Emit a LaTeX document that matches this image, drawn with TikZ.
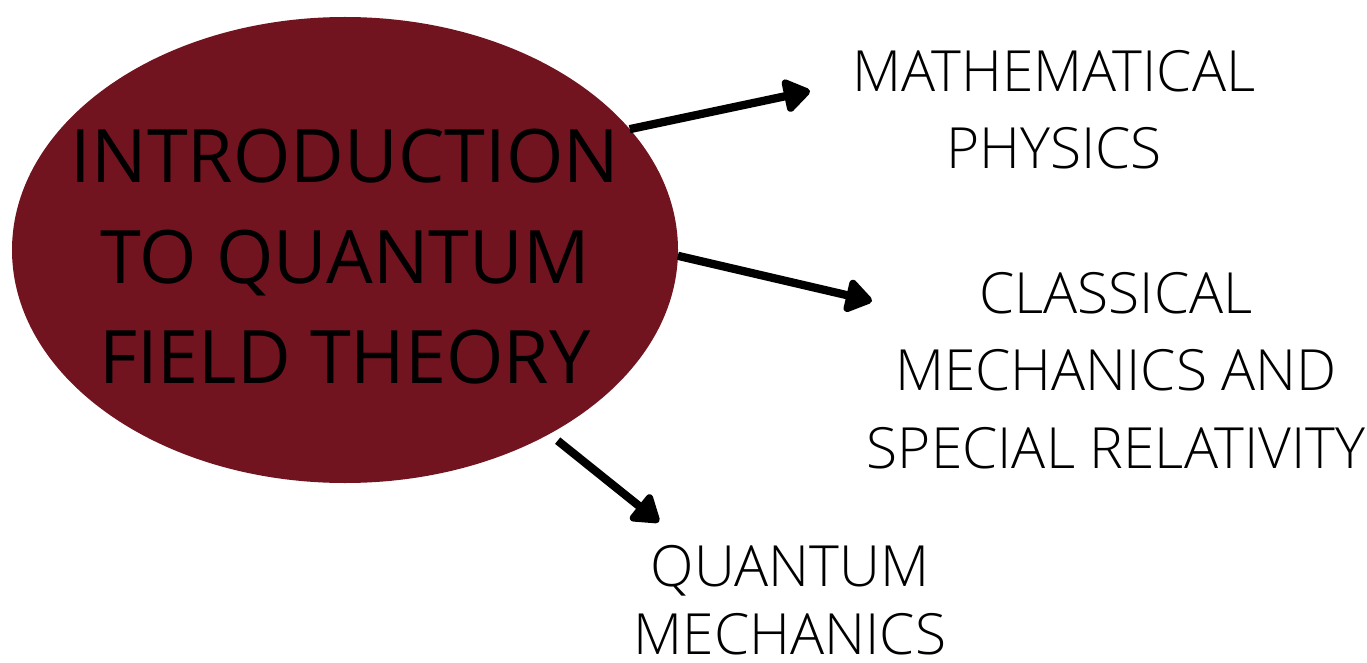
\documentclass[tikz,border=0pt]{standalone}
\usepackage{fontspec}
\setmainfont{Open Sans}
\IfFontExistsTF{Open Sans Light}{\newfontfamily\lightfont{Open Sans Light}}{\newfontfamily\lightfont{Open Sans}}
\usetikzlibrary{shapes.geometric}
\usetikzlibrary{arrows.meta}
\usepackage{xcolor}
\definecolor{qftred}{HTML}{721420}

\begin{document}
\begin{tikzpicture}[x=0.75pt, y=-0.75pt,
    blob/.style={ellipse, fill=qftred, minimum width=499.5pt, minimum height=349.5pt, inner sep=0pt, outer sep=0pt},
    bigtext/.style={align=center, inner sep=0pt, font=\fontsize{55.3}{75.4}\selectfont},
    topic/.style={align=center, inner sep=0pt, font=\lightfont\fontsize{42.6}{58}\selectfont},
    arr/.style={line width=6.2pt, -{Triangle[round, length=22pt, width=28pt]}}]
                \useasboundingbox (0,0) rectangle (1367,663);

                % 楕円
                \node[blob] (intro) at (345,250) {};
                \node[bigtext, anchor=north] (introtext) at (345,129) {INTRODUCTION\\TO QUANTUM\\FIELD THEORY};

                % 分野
                \node[topic, anchor=north] (math) at (1054,50) {MATHEMATICAL\\PHYSICS};
                \node[topic, anchor=north] (classic) at (1116,272) {CLASSICAL\\MECHANICS AND\\SPECIAL RELATIVITY};
                \node[topic, anchor=north, font=\lightfont\fontsize{42.6}{51}\selectfont] (qm) at (790,545) {QUANTUM\\MECHANICS};

                % 矢印の先
                \coordinate (mathtip) at (810,91);
                \coordinate (classictip) at (872,301);
                \coordinate (qmtip) at (659,522);

                % 矢印
                \draw[arr] (intro.23.7) -- (mathtip);
                \draw[arr] (intro.-1) -- (classictip);
                \draw[arr, shorten <=8pt] (intro.-42.3) -- (qmtip);

            \end{tikzpicture}
\end{document}
